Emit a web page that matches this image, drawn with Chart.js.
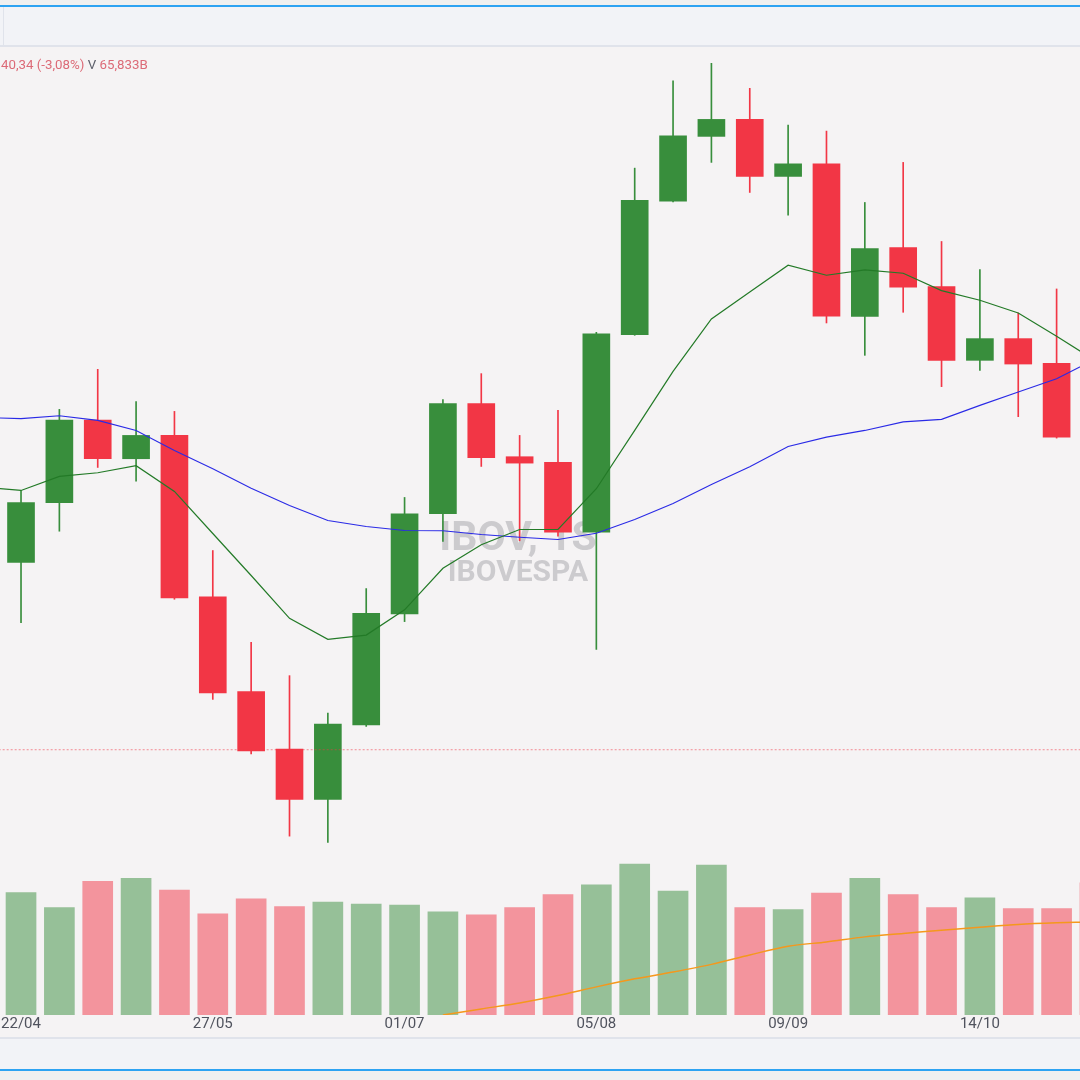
<!DOCTYPE html>
<html>
<head>
<meta charset="utf-8">
<title>IBOV, 1S</title>
<script src="https://cdn.jsdelivr.net/npm/chart.js@4.4.1/dist/chart.umd.min.js"></script>
<style>
    html, body { margin: 0; padding: 0; }
    body {
        width: 1080px;
        height: 1080px;
        position: relative;
        overflow: hidden;
        background: #f0f0f0;
        font-family: Roboto, "Noto Sans", sans-serif;
    }
    .strip { position: absolute; left: 0; width: 1080px; }
    .legend {
        position: absolute;
        left: 1px;
        top: 57px;
        font-size: 13.3px;
        line-height: 16px;
        color: #dc6a77;
        white-space: nowrap;
    }
    .legend .v { color: #5d606b; }
</style>
</head>
<body>
<div class="strip" style="top:5px;height:2px;background:#2ea3f2"></div>
<div class="strip" style="top:7px;height:38px;background:#f2f3f7"></div>
<div style="position:absolute;left:3px;top:7px;width:1px;height:38px;background:#e0e3eb"></div>
<div class="strip" style="top:45px;height:2px;background:#e0e3eb"></div>
<div class="strip" style="top:47px;height:990px;background:#f5f3f4">
    <canvas id="ibovChart"></canvas>
</div>
<div class="strip" style="top:1037px;height:2px;background:#e0e3eb"></div>
<div class="strip" style="top:1039px;height:30px;background:#f2f3f7"></div>
<div class="strip" style="top:1069px;height:2px;background:#2ea3f2"></div>
<div class="legend">40,34 (-3,08%) <span class="v">V</span> 65,833B</div>

<script>
// semanas (segunda-feira de cada vela semanal)
const weeks = ["22/04", "29/04", "06/05", "13/05", "20/05", "27/05", "03/06", "10/06", "17/06", "24/06",
    "01/07", "08/07", "15/07", "22/07", "29/07", "05/08", "12/08", "19/08", "26/08", "02/09",
    "09/09", "16/09", "23/09", "30/09", "07/10", "14/10", "21/10", "28/10", "04/11"]
const tickIdx = [0, 5, 10, 15, 20, 25]

const open = [125751, 127171, 129135, 128217, 128771, 124935, 122683, 121320, 120121, 121890,
    124531, 126909, 129525, 128265, 128129, 126471, 131167, 134337, 135876, 136280,
    134925, 135224, 131600, 133236, 132308, 130555, 131071, 130484, 128731]
const high = [127463, 129390, 130341, 129573, 129342, 126036, 123855, 123063, 122176, 125132,
    127297, 129621, 130239, 128771, 129366, 131221, 135122, 137198, 137612, 137018,
    136145, 136002, 134306, 135258, 133379, 132713, 131680, 132251, 129000]
const low = [124324, 126495, 128010, 127684, 124878, 122499, 121201, 119250, 119098, 121857,
    124347, 126250, 128034, 126267, 126376, 123689, 131150, 134320, 135258, 134544,
    134004, 131443, 130674, 131697, 129930, 130318, 129216, 128707, 127300]
const close = [127178, 129135, 128217, 128771, 124911, 122652, 121272, 120121, 121914, 124545,
    126909, 129525, 128241, 128113, 126471, 131186, 134354, 135890, 136280, 134925,
    135224, 131602, 133212, 132292, 130555, 131071, 130467, 128731, 127600]

// volume em bilhoes
const volume = [61.0, 53.5, 66.5, 68.0, 62.2, 50.4, 57.8, 54.0, 56.2, 55.2,
    54.7, 51.4, 49.9, 53.5, 60.0, 64.8, 75.2, 61.7, 74.7, 53.5,
    52.5, 60.7, 68.0, 60.0, 53.5, 58.3, 53.0, 53.0, 65.8]
const volMaStart = 11
const volMa = [0, 3, 6, 9.7, 14, 18, 21.4, 25.2, 29.9, 34.2, 36.4, 38.9, 40.6, 42.2, 43.7, 45.1, 45.9, 46.4]

// medias moveis, comecando uma semana antes da primeira vela
const maStart = -1
const maFast = [127542, 127463, 127796, 127884, 128051, 127440, 126441, 125442, 124426, 123926,
    124026, 124626, 125615, 126172, 126536, 126536, 127504, 128890, 130294, 131538,
    132177, 132815, 132577, 132703, 132625, 132213, 131982, 131680, 131126, 130555]
const maSlow = [129200, 129169, 129240, 129128, 128890, 128415, 127979, 127518, 127107, 126750,
    126607, 126512, 126505, 126417, 126353, 126298, 126448, 126774, 127154, 127606,
    128027, 128510, 128731, 128890, 129093, 129152, 129485, 129801, 130119, 130579]

const lastPrice = 121303

const up = "#388e3c"
const down = "#f23645"
const isUp = weeks.map((w, i) => close[i] >= open[i])

const watermark = {
    id: "watermark",
    beforeDatasetsDraw(chart) {
        const ctx = chart.ctx
        ctx.save()
        ctx.fillStyle = "rgba(120, 120, 132, 0.33)"
        ctx.textAlign = "center"
        ctx.font = "bold 41px Roboto"
        ctx.fillText("IBOV, 1S", 518, 503)
        ctx.font = "bold 30px Roboto"
        ctx.fillText("IBOVESPA", 518, 534)
        ctx.restore()
    }
}

const ibovChart = new Chart(
    document.getElementById("ibovChart"),
    {
        type: "bar",
        data: {
            datasets: [
                {
                    type: "line",
                    label: "Ultimo preco",
                    data: [{ x: -1, y: lastPrice }, { x: weeks.length, y: lastPrice }],
                    borderColor: "rgba(242, 54, 69, 0.55)",
                    borderWidth: 1,
                    borderDash: [2, 2],
                    pointRadius: 0,
                    order: 0
                },
                {
                    type: "line",
                    label: "MM rapida",
                    data: maFast.map((v, k) => ({ x: k + maStart, y: v })),
                    borderColor: "#237a27",
                    borderWidth: 1.2,
                    pointRadius: 0,
                    tension: 0,
                    order: 1
                },
                {
                    type: "line",
                    label: "MM lenta",
                    data: maSlow.map((v, k) => ({ x: k + maStart, y: v })),
                    borderColor: "#2a2ae6",
                    borderWidth: 1.1,
                    pointRadius: 0,
                    tension: 0,
                    order: 1
                },
                {
                    type: "line",
                    label: "MM volume",
                    yAxisID: "yv",
                    data: volMa.map((v, k) => ({ x: k + volMaStart, y: v })),
                    borderColor: "#f5981c",
                    borderWidth: 1.5,
                    pointRadius: 0,
                    tension: 0.3,
                    order: 1
                },
                {
                    label: "Corpo",
                    data: weeks.map((w, i) => ({ x: i, y: [open[i], close[i]] })),
                    backgroundColor: isUp.map(u => u ? up : down),
                    barThickness: 27,
                    grouped: false,
                    order: 3
                },
                {
                    label: "Pavio",
                    data: weeks.map((w, i) => ({ x: i, y: [low[i], high[i]] })),
                    backgroundColor: isUp.map(u => u ? up : down),
                    barThickness: 1,
                    grouped: false,
                    order: 4
                },
                {
                    label: "Volume",
                    yAxisID: "yv",
                    data: weeks.map((w, i) => ({ x: i, y: volume[i] })),
                    backgroundColor: isUp.map(u => u ? "rgba(56, 142, 60, 0.5)" : "rgba(242, 54, 69, 0.5)"),
                    barThickness: 30,
                    grouped: false,
                    order: 5
                }
            ]
        },
        options: {
            responsive: true,
            maintainAspectRatio: false,
            animation: false,
            layout: { padding: { left: 0, right: 0, top: 0, bottom: 4 } },
            plugins: {
                legend: { display: false },
                tooltip: { enabled: false }
            },
            scales: {
                x: {
                    type: "linear",
                    offset: false,
                    min: -0.548,
                    max: 27.61,
                    grid: { display: false, drawTicks: false, offset: false },
                    border: { display: false },
                    afterBuildTicks: axis => {
                        axis.ticks = tickIdx.map(v => ({ value: v }))
                    },
                    ticks: {
                        autoSkip: false,
                        maxRotation: 0,
                        padding: 0,
                        color: "#50535e",
                        font: { size: 15, family: "Roboto" },
                        callback: v => weeks[v]
                    }
                },
                y: {
                    display: false,
                    min: 115000,
                    max: 138000
                },
                yv: {
                    display: false,
                    min: 0,
                    max: 482
                }
            }
        },
        plugins: [watermark]
    }
)
</script>
</body>
</html>
